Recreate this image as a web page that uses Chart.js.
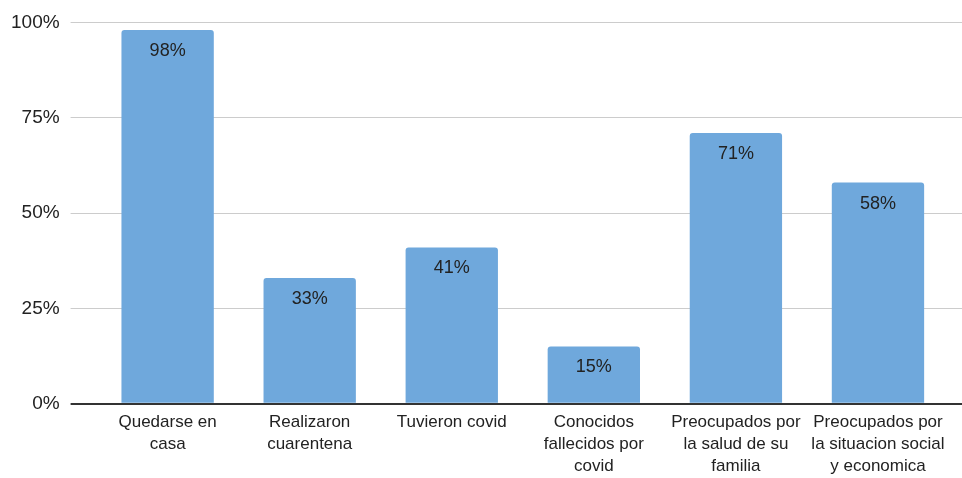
<!DOCTYPE html>
<html>
<head>
<meta charset="utf-8">
<script src="https://cdn.jsdelivr.net/npm/chart.js@4.4.1/dist/chart.umd.min.js"></script>
<style>
  html, body { margin: 0; padding: 0; background: #fff; }
  #wrap { width: 962px; height: 478px; }
</style>
</head>
<body>
<div id="wrap"><canvas id="chart"></canvas></div>
<script>
const categories = [
    ['Quedarse en', 'casa'],
    ['Realizaron', 'cuarentena'],
    ['Tuvieron covid'],
    ['Conocidos', 'fallecidos por', 'covid'],
    ['Preocupados por', 'la salud de su', 'familia'],
    ['Preocupados por', 'la situacion social', 'y economica']
];
const percentages = [98, 33, 41, 15, 71, 58];
const yTicks = [0, 25, 50, 75, 100];

const FONT = '"Liberation Sans", Arial, sans-serif';
const gridColor = ctx => (ctx.tick && ctx.tick.value === 0) ? '#333333' : '#cccccc';
const gridWidth = ctx => (ctx.tick && ctx.tick.value === 0) ? 2 : 1;

// draws the value inside the top of each bar
const barLabels = {
    id: 'barLabels',
    afterDatasetsDraw(chart) {
        const ctx = chart.ctx;
        const meta = chart.getDatasetMeta(0);
        ctx.save();
        ctx.font = '18px ' + FONT;
        ctx.fillStyle = '#222222';
        ctx.textAlign = 'center';
        ctx.textBaseline = 'middle';
        meta.data.forEach((bar, i) => {
            ctx.fillText(percentages[i] + '%', bar.x, bar.y + 21);
        });
        ctx.restore();
    }
};

const yScaleBase = {
    min: 0,
    max: 100,
    afterBuildTicks: scale => { scale.ticks = yTicks.map(v => ({ value: v })); },
    border: { display: false }
};

new Chart(document.getElementById('chart'), {
    type: 'bar',
    data: {
        labels: categories,
        datasets: [{
            data: percentages,
            backgroundColor: '#6fa8dc',
            borderRadius: 3,
            borderSkipped: 'bottom',
            categoryPercentage: 1,
            barPercentage: 0.65
        }]
    },
    options: {
        responsive: true,
        maintainAspectRatio: false,
        animation: false,
        layout: { padding: { top: 5, left: 0, right: 0, bottom: 1 } },
        plugins: {
            legend: { display: false },
            tooltip: { enabled: false }
        },
        scales: {
            x: {
                grid: { display: false },
                border: { display: false },
                ticks: {
                    color: '#222222',
                    font: { family: FONT, size: 17, lineHeight: 1.28 },
                    padding: 0,
                    maxRotation: 0,
                    autoSkip: false
                }
            },
            y: {
                ...yScaleBase,
                position: 'left',
                grid: { color: gridColor, tickColor: gridColor, lineWidth: gridWidth, tickLength: 26 },
                ticks: {
                    color: '#222222',
                    font: { family: FONT, size: 19 },
                    padding: 11,
                    callback: v => v + '%'
                }
            },
            yRight: {
                ...yScaleBase,
                position: 'right',
                grid: { color: gridColor, tickColor: gridColor, lineWidth: gridWidth, tickLength: 13, drawOnChartArea: false },
                ticks: { display: false }
            }
        }
    },
    plugins: [barLabels]
});
</script>
</body>
</html>
